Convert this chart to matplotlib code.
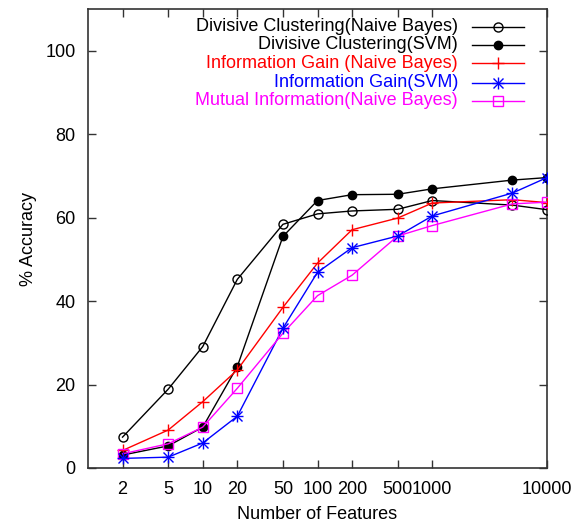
import matplotlib
matplotlib.use("Agg")
import matplotlib.pyplot as plt
from matplotlib.lines import Line2D

plt.rcParams['font.family'] = ['Liberation Sans', 'DejaVu Sans']

features = [2, 5, 10, 20, 50, 100, 200, 500, 1000, 5000, 10000]
x_ticks = [2, 5, 10, 20, 50, 100, 200, 500, 1000, 10000]
y_ticks = [0, 20, 40, 60, 80, 100]

dc_nb = [7.4, 18.9, 29.1, 45.2, 58.4, 60.9, 61.6, 62.0, 64.1, 63.0, 61.9]
dc_svm = [3.1, 5.3, 9.8, 24.3, 55.5, 64.1, 65.5, 65.6, 66.9, 69.0, 69.6]
ig_nb = [4.2, 9.1, 15.9, 23.5, 38.5, 49.1, 57.1, 59.9, 63.5, 64.3, 63.6]
ig_svm = [2.3, 2.6, 6.0, 12.4, 33.5, 46.9, 52.8, 55.6, 60.4, 65.9, 69.6]
mi_nb = [3.4, 5.8, 9.8, 19.1, 32.3, 41.3, 46.2, 55.6, 58.1, 63.3, 63.7]

labels = [
    "Divisive Clustering(Naive Bayes)",
    "Divisive Clustering(SVM)",
    "Information Gain (Naive Bayes)",
    "Information Gain(SVM)",
    "Mutual Information(Naive Bayes)",
]

styles = [
    dict(color='black', marker='o', mfc='none', ms=6.5, mew=1.0),
    dict(color='black', marker='o', mfc='black', ms=6, mew=1.0),
    dict(color='red', marker='+', ms=9, mew=1.0),
    dict(color='blue', marker='*', ms=0, mew=1.0),
    dict(color='magenta', marker='s', mfc='none', ms=7, mew=1.0),
]
series = [dc_nb, dc_svm, ig_nb, ig_svm, mi_nb]

FS = 13

fig = plt.figure(figsize=(5.84, 5.27), dpi=100)
ax = fig.add_axes([88 / 584, 1 - 468 / 527, 459 / 584, 459 / 527])

for vals, st in zip(series, styles):
    kw = dict(st)
    if kw['marker'] == '*':
        # gnuplot-style asterisk: an x overlaid on a +
        ax.plot(features, vals, color=kw['color'], lw=1.0, zorder=3)
        ax.plot(features, vals, ls='none', marker='x', color=kw['color'], ms=7, mew=1.0, zorder=4)
        ax.plot(features, vals, ls='none', marker='+', color=kw['color'], ms=9, mew=1.0, zorder=4)
    else:
        ax.plot(features, vals, lw=1.0, zorder=3, **kw)

ax.set_xscale('log')
ax.set_xlim(1, 10000)
ax.set_ylim(0, 110)
ax.set_xticks(x_ticks)
ax.set_xticklabels([str(t) for t in x_ticks])
ax.xaxis.set_minor_locator(matplotlib.ticker.NullLocator())
ax.set_yticks(y_ticks)
ax.tick_params(direction='in', length=6, width=1.0, top=True, right=True,
               labelsize=FS, pad=9, colors='#333333', labelcolor='black')
for sp in ax.spines.values():
    sp.set_linewidth(1.2)
    sp.set_color('#333333')

ax.set_xlabel("Number of Features", fontsize=FS, labelpad=6)
ax.set_ylabel("% Accuracy", fontsize=FS, labelpad=6)

# key in the upper right, text right-aligned before the sample line
row_y = [0.9614, 0.9216, 0.8817, 0.8394, 0.7996]
for lab, st, yy in zip(labels, styles, row_y):
    ax.text(0.806, yy, lab, transform=ax.transAxes, ha='right', va='center',
            fontsize=FS, color=st['color'])
    ax.add_line(Line2D([0.837, 0.950], [yy, yy], transform=ax.transAxes,
                       color=st['color'], lw=1.0, clip_on=False))
    if st['marker'] == '*':
        for m, s in (('x', 7), ('+', 9)):
            ax.add_line(Line2D([0.893], [yy], transform=ax.transAxes, ls='none',
                               marker=m, color=st['color'], ms=s, mew=1.0))
    else:
        ax.add_line(Line2D([0.893], [yy], transform=ax.transAxes, ls='none',
                           marker=st['marker'], color=st['color'],
                           mfc=st.get('mfc', st['color']), ms=st['ms'], mew=1.0))

fig.savefig("out.png", dpi=100)
